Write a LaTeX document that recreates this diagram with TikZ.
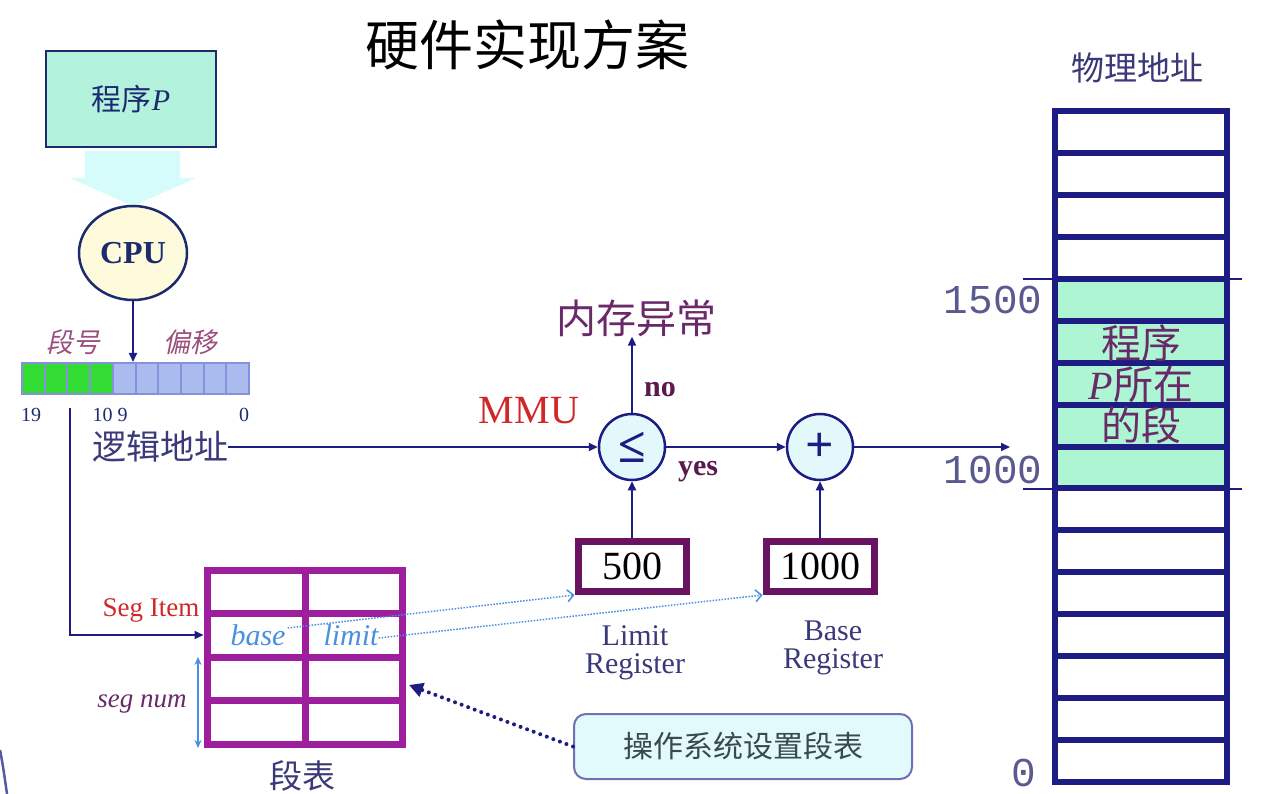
\documentclass[tikz,border=0pt]{standalone}
\usepackage{fontspec}
\setmainfont{Liberation Serif}
\newfontfamily\cjk{Noto Sans CJK SC}
\newfontfamily\cjkit[FakeSlant=0.2]{Noto Sans CJK SC}
\newfontfamily\monofont{Liberation Mono}
\usetikzlibrary{arrows.meta,shapes.geometric}
\definecolor{navy}{HTML}{1C1C82}
\definecolor{dnavy}{HTML}{1E2A6E}
\definecolor{progfill}{HTML}{B3F2DC}
\definecolor{cpufill}{HTML}{FDFBDC}
\definecolor{circfill}{HTML}{E2F8FB}
\definecolor{segpurple}{HTML}{9E1F9E}
\definecolor{regpurple}{HTML}{6A1262}
\definecolor{lblue}{HTML}{4A90E0}
\definecolor{memgreen}{HTML}{AEF5D4}
\definecolor{textblue}{HTML}{3A3A7A}
\definecolor{mauve}{HTML}{9A4F7E}
\definecolor{plum}{HTML}{6A2A6A}
\definecolor{darkplum}{HTML}{5A1A50}
\definecolor{mmured}{HTML}{D02828}
\definecolor{osfill}{HTML}{E2FAFC}
\definecolor{osborder}{HTML}{7070B8}
\definecolor{ostext}{HTML}{3A4A4A}
\definecolor{bitgreen}{HTML}{33DD33}
\definecolor{bitblue}{HTML}{AABBEE}
\definecolor{bitedge}{HTML}{8890DD}
\definecolor{arrowcyan}{HTML}{D6FBFB}
\definecolor{numgray}{HTML}{5A5A90}
\newcommand{\fsz}[1]{\fontsize{#1}{#1}\selectfont}
\begin{document}
\begin{tikzpicture}[x=1pt,y=-1pt,
  every node/.style={inner sep=0pt},
  conn/.style={draw=navy, line width=2pt, -{Triangle[length=9pt,width=8pt]}},
  dotconn/.style={draw=lblue, line width=1.5pt, dash pattern=on 1.5pt off 1.5pt, -{Straight Barb[length=6pt,width=12pt]}},
  regbox/.style={draw=regpurple, line width=7pt, fill=white, minimum width=108pt, minimum height=50pt, font=\fsz{40}},
  regname/.style={align=center, font=\fontsize{30}{28}\selectfont, text=textblue},
  opcirc/.style={circle, draw=navy, line width=2.5pt, fill=circfill, minimum size=66pt, font=\bfseries\fsz{50}, text=navy},
  memlbl/.style={font=\monofont\fsz{41}, text=numgray},
  flaglbl/.style={font=\bfseries\fsz{30}, text=darkplum},
  fieldlbl/.style={font=\cjkit\fsz{27}, text=mauve},
  bitlbl/.style={font=\fsz{20}, text=dnavy}
]
\useasboundingbox (0,0) rectangle (1264,794);
\fill[white] (0,0) rectangle (1264,794);

% title
\node[font=\cjk\fsz{54}] (title) at (527,45) {硬件实现方案};

% program box and big arrow
\fill[arrowcyan] (85,151) -- (180,151) -- (180,178) -- (196,178) -- (133,206) -- (70,178) -- (85,178) -- cycle;
\node[draw=dnavy, line width=2.5pt, fill=progfill, minimum width=170pt, minimum height=96pt, font=\fsz{30}, text=dnavy] (prog) at (131,99) {{\cjk 程序}{\itshape P}};

% CPU
\node[ellipse, draw=dnavy, line width=2.5pt, fill=cpufill, minimum width=108pt, minimum height=94pt, font=\bfseries\fsz{32}, text=dnavy] (cpu) at (133,253) {CPU};

% register bar
\foreach \i/\c in {0/bitgreen,1/bitgreen,2/bitgreen,3/bitgreen,4/bitblue,5/bitblue,6/bitblue,7/bitblue,8/bitblue,9/bitblue}{
  \filldraw[fill=\c, draw=bitedge, line width=2pt] ({22+\i*22.7},363) rectangle ({22+(\i+1)*22.7},394);
}
\node[draw=bitedge, line width=2pt, minimum width=227pt, minimum height=31pt] (reg) at (135.5,378.5) {};
\draw[conn] (cpu.south) -- (cpu.south |- reg.north);
\node[fieldlbl] (segno) at (73,342) {段号};
\node[fieldlbl] (offs) at (190,342) {偏移};
\node[bitlbl] (b19) at (31,415) {19};
\node[bitlbl] (b109) at (110,415) {10 9};
\node[bitlbl] (b0) at (244,415) {0};

% logical address line
\node[font=\cjk\fsz{34}, text=textblue] (logic) at (160,447) {逻辑地址};
\node[font=\fsz{40}, text=mmured] (mmu) at (529,411) {MMU};
\node[opcirc] (le) at (632,447) {≤};
\node[opcirc] (plus) at (820,447) {+};
\coordinate (memin) at (1010,447);
\draw[conn] (logic.east) -- (le.west);
\draw[conn] (le.east) -- (plus.west);
\draw[conn] (plus.east) -- (memin);
\node[font=\cjk\fsz{40}, text=plum] (exc) at (636,318) {内存异常};
\draw[conn] (le.north) -- (le.north |- exc.south);
\node[flaglbl] (no) at (660,390) {no};
\node[flaglbl] (yes) at (698,472) {yes};

% registers
\node[regbox] (b500) at (632,566.5) {500};
\node[regbox] (b1000) at (820,566.5) {1000};
\draw[conn] (b500.north) -- (le.south);
\draw[conn] (b1000.north) -- (plus.south);
\node[regname] (limlbl) at (635,653) {Limit\\Register};
\node[regname] (baslbl) at (833,648) {Base\\Register};

% segment table
\node[draw=segpurple, line width=7pt, minimum width=195pt, minimum height=174pt] (seg) at (304.5,657) {};
\draw[segpurple, line width=7pt] (305,570) -- (305,744);
\foreach \yy in {613,657,700} \draw[segpurple, line width=7pt] (207,\yy) -- (402,\yy);
\node[font=\itshape\fsz{30}, text=lblue] (base) at (258,635) {base};
\node[font=\itshape\fsz{30}, text=lblue] (limit) at (351,635) {limit};
\node[font=\fsz{27}, text=mmured] (segitem) at (151,610) {Seg Item};
\node[font=\itshape\fsz{27}, text=plum] (segnum) at (142,704) {seg num};
\node[font=\cjk\fsz{33}, text=textblue] (segtitle) at (302,776) {段表};
\coordinate (sn1) at (198,657);
\coordinate (sn2) at (198,748);
\draw[lblue, line width=1.5pt, {Stealth[length=8pt,width=7pt]}-{Stealth[length=8pt,width=7pt]}] (sn1) -- (sn2);
\coordinate (segstart) at (70,408);
\draw[conn] (segstart) |- (seg.west |- base);

% dotted links
\draw[dotconn] ([xshift=2pt,yshift=7pt]base.east) -- (b500.south west);
\draw[dotconn] ([yshift=-3pt]limit.east) -- (b1000.south west);

% OS box
\node[draw=osborder, line width=2pt, fill=osfill, rounded corners=12pt, minimum width=338pt, minimum height=65pt, font=\cjk\fsz{30}, text=ostext] (os) at (743,746.5) {操作系统设置段表};
\coordinate (segtip) at (409,685);
\draw[navy, line width=4pt, line cap=round, dash pattern=on 0pt off 7pt, -{Triangle[length=14pt,width=14pt]}] (os.west) -- (segtip);

% physical memory
\node[font=\cjk\fsz{33}, text=textblue] (phys) at (1137,68) {物理地址};
\foreach \k in {0,...,15}{
  \ifnum\k>3 \ifnum\k<9
    \fill[memgreen] (1055,{111+41.94*\k}) rectangle (1226.5,{111+41.94*(\k+1)});
  \fi\fi
}
\foreach \k in {1,...,15} \draw[navy, line width=6pt] (1055,{111+41.94*\k}) -- (1226.5,{111+41.94*\k});
\node[draw=navy, line width=6pt, minimum width=171.5pt, minimum height=671pt] (mem) at (1140.75,446.5) {};
\draw[navy, line width=2.5pt] (1023,279) -- (1242,279);
\draw[navy, line width=2.5pt] (1023,489) -- (1242,489);
\node[memlbl] (m1500) at (993,300) {1500};
\node[memlbl] (m1000) at (993,470) {1000};
\node[memlbl] (m0) at (1024,773) {0};
\node[align=center, font=\cjk\fontsize{40}{41}\selectfont, text=plum] (pseg) at (1141,384) {程序\\{\rmfamily\itshape P}所在\\的段};

% corner artifact
\draw[gray!70!blue, line width=2.5pt] (0,750) .. controls (3,765) and (5,780) .. (7,794);
\end{tikzpicture}
\end{document}
